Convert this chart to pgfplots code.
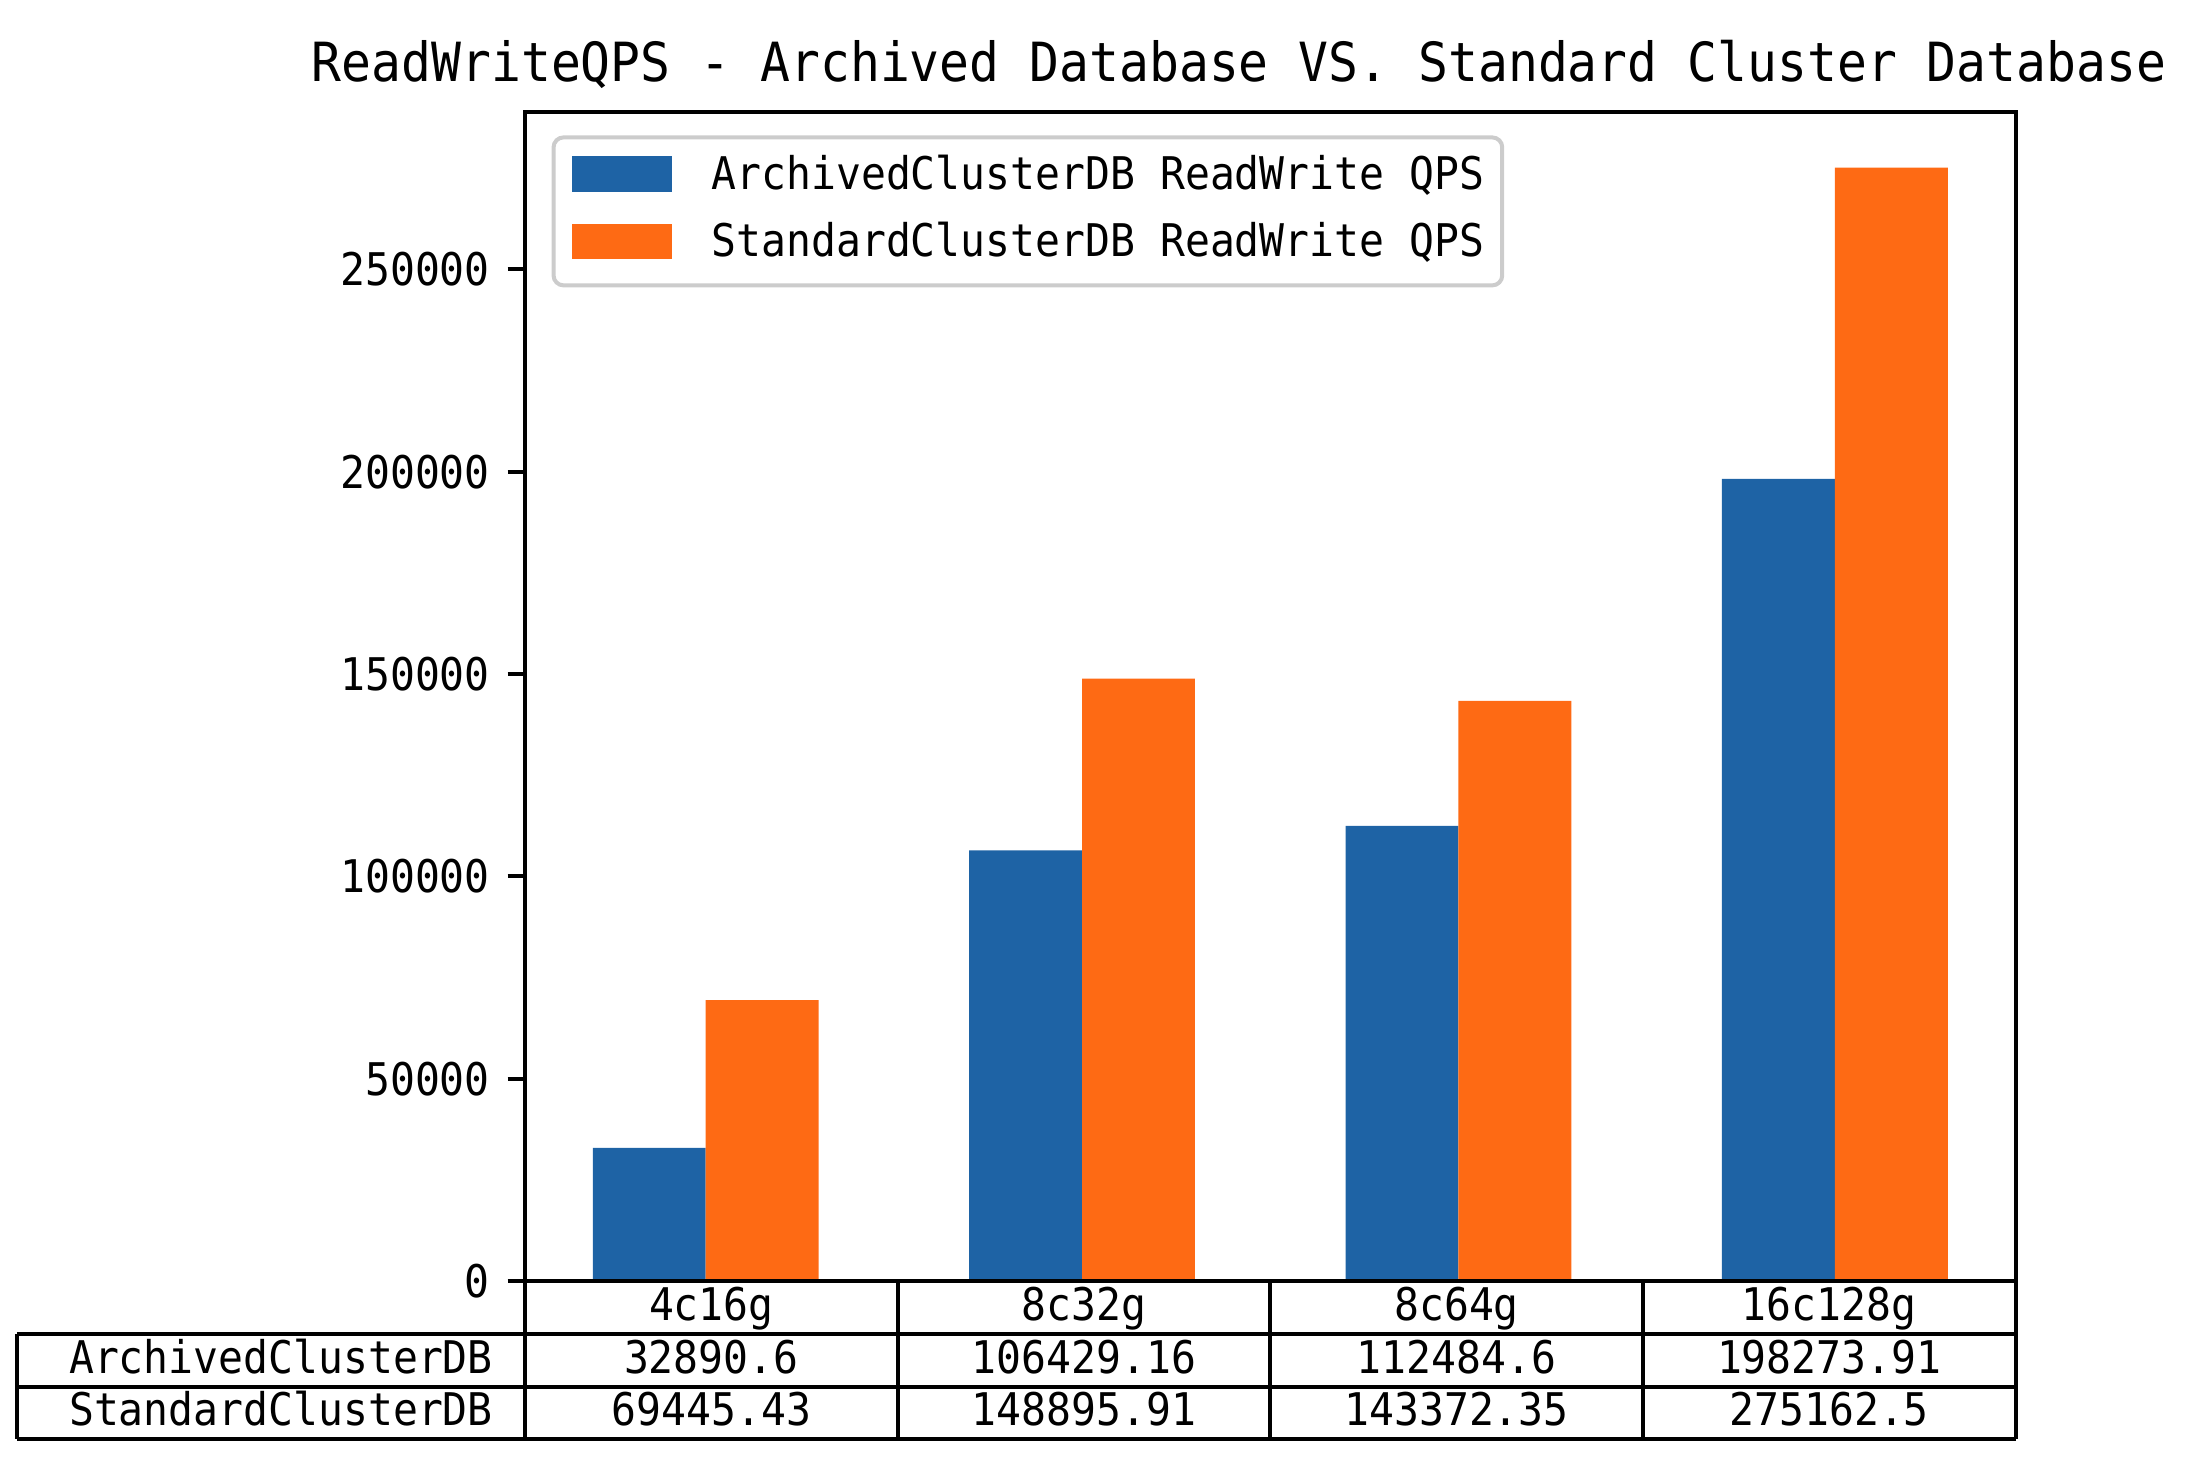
\documentclass[border=0pt]{standalone}
\usepackage{fontspec}
\setmainfont{DejaVu Sans Mono}[FakeStretch=0.92]
\usepackage{pgfplots}
\pgfplotsset{compat=1.18}
\definecolor{cblue}{HTML}{1E63A5}
\definecolor{corange}{HTML}{FE6A14}
\begin{document}
\begin{tikzpicture}[x=1pt,y=1pt]
\path[use as bounding box] (0,0) rectangle (438,292.8);
\begin{axis}[
  at={(105pt,36.6pt)}, anchor=south west,
  scale only axis, width=298.1pt, height=233.8pt,
  xmin=-0.48, xmax=3.48, ymin=0, ymax=288920.6,
  xtick=\empty,
  ytick={0,50000,100000,150000,200000,250000},
  ytick pos=left, tick align=outside, major tick length=3.5pt,
  yticklabel style={font=\fontsize{9}{10}\selectfont},
  /pgf/number format/.cd, fixed, 1000 sep={}, assume math mode=true, /pgfplots/.cd,
  scaled y ticks=false,
  axis line style={line width=0.8pt},
  tick style={line width=0.8pt, black},
  legend cell align=left,
  legend image code/.code={\fill[#1, sharp corners] (0pt,-2.8pt) rectangle (20pt,4.3pt); \path (28pt,0pt);},
  legend style={at={(0.0178,0.98)}, anchor=north west, draw=black!20, line width=0.8pt,
    rounded corners=2pt, fill=white, inner xsep=3.6pt, inner ysep=3.8pt,
    font=\fontsize{9}{10}\selectfont, row sep=4.9pt,
    nodes={inner sep=0pt, text height=6.5pt, text depth=2pt}},
]
\addplot[ybar, bar width=0.3, bar shift=-0.15, fill=cblue, draw=none]
  coordinates {(0,32890.6) (1,106429.16) (2,112484.6) (3,198273.91)};
\addlegendentry{ArchivedClusterDB ReadWrite QPS}
\addplot[ybar, bar width=0.3, bar shift=0.15, fill=corange, draw=none]
  coordinates {(0,69445.43) (1,148895.91) (2,143372.35) (3,275162.5)};
\addlegendentry{StandardClusterDB ReadWrite QPS}
\end{axis}
\node[anchor=base, font=\fontsize{10.8}{13}\selectfont, inner sep=0pt] at (247.8,276.6)
  {ReadWriteQPS - Archived Database VS. Standard Cluster Database};
% table
\begin{scope}[line width=0.8pt]
\draw (105,36.6) -- (105,5.1);
\draw (403.1,36.6) -- (403.1,5.1);
\draw (105,36.6) -- (403.1,36.6);
\draw (3.35,26.0) -- (403.1,26.0);
\draw (3.35,15.4) -- (403.1,15.4);
\draw (3.35,5.1) -- (403.1,5.1);
\draw (3.35,26.0) -- (3.35,5.1);
\draw (179.525,36.6) -- (179.525,5.1);
\draw (254.05,36.6) -- (254.05,5.1);
\draw (328.575,36.6) -- (328.575,5.1);
\end{scope}
\begin{scope}[every node/.style={font=\fontsize{9}{10}\selectfont, inner sep=0pt, text height=6.6pt, text depth=1.6pt, anchor=center}]
\node at (142.26,31.3) {4c16g};
\node at (216.79,31.3) {8c32g};
\node at (291.31,31.3) {8c64g};
\node at (365.84,31.3) {16c128g};
\node at (56.2,20.7) {ArchivedClusterDB};
\node at (142.26,20.7) {32890.6};
\node at (216.79,20.7) {106429.16};
\node at (291.31,20.7) {112484.6};
\node at (365.84,20.7) {198273.91};
\node at (56.2,10.25) {StandardClusterDB};
\node at (142.26,10.25) {69445.43};
\node at (216.79,10.25) {148895.91};
\node at (291.31,10.25) {143372.35};
\node at (365.84,10.25) {275162.5};
\end{scope}
\end{tikzpicture}
\end{document}
